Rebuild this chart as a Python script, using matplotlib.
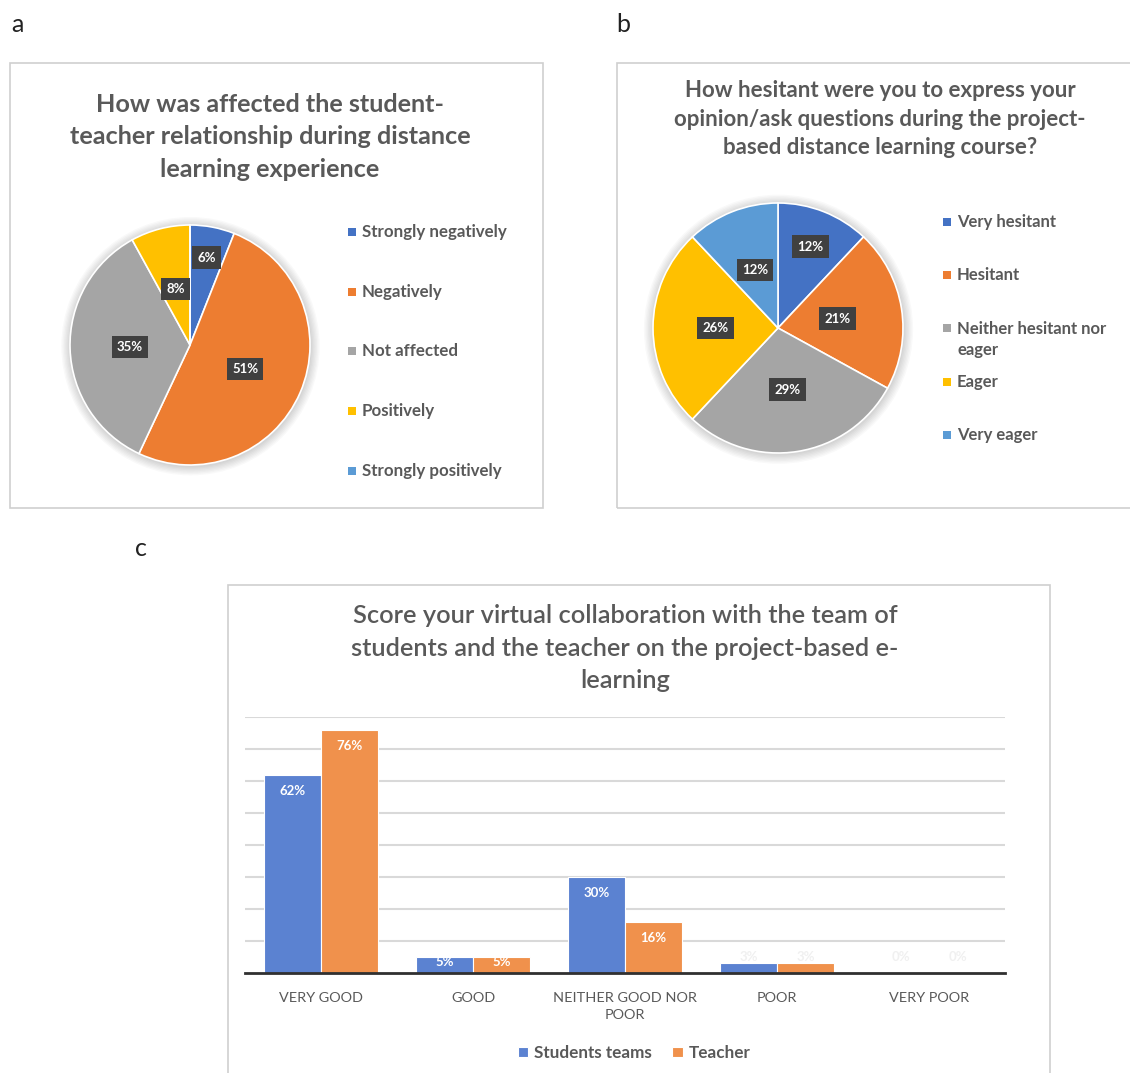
import matplotlib
matplotlib.use("Agg")
import matplotlib.pyplot as plt
from matplotlib.patches import Rectangle, Circle
import numpy as np

# --- data ---
relation_labels = ["Strongly negatively", "Negatively", "Not affected", "Positively", "Strongly positively"]
relation_pct = [6, 51, 35, 8, 0]

hesitant_labels = ["Very hesitant", "Hesitant", "Neither hesitant nor\neager", "Eager", "Very eager"]
hesitant_pct = [12, 21, 29, 26, 12]

score_cats = ["VERY GOOD", "GOOD", "NEITHER GOOD NOR\nPOOR", "POOR", "VERY POOR"]
students_pct = [62, 5, 30, 3, 0]
teacher_pct = [76, 5, 16, 3, 0]

pie_colors = ["#4472C4", "#ED7D31", "#A5A5A5", "#FFC000", "#5B9BD5"]
bar_colors = ["#5B82D1", "#F0914C"]
txt_gray = "#595959"

plt.rcParams["font.family"] = ["Lato", "DejaVu Sans"]

W, H = 1130, 1073
fig = plt.figure(figsize=(W / 100, H / 100), dpi=100)


def fx(x):
    return x / W


def fy(y):
    return 1 - y / H


def box(x0, y0, x1, y1):
    fig.patches.append(Rectangle((fx(x0), fy(y1)), fx(x1 - x0), (y1 - y0) / H,
                                 transform=fig.transFigure, fill=False,
                                 edgecolor="#cfcfcf", linewidth=1.2))


def pie_panel(cx, cy, r, values, colors, label_r):
    pad = 12
    ax = fig.add_axes([fx(cx - r - pad), fy(cy + r + pad), (2 * r + 2 * pad) / W, (2 * r + 2 * pad) / H])
    # soft shadow round the pie
    for k in range(7):
        ax.add_patch(Circle((0.004, -0.01), 1 + 0.011 * (k + 1), color="#000000", alpha=0.022, lw=0))
    wedges, _ = ax.pie(values, colors=colors, startangle=90, counterclock=False,
                       wedgeprops=dict(edgecolor="white", linewidth=1.2))
    for w, v, lr in zip(wedges, values, label_r):
        if v == 0:
            continue
        ang = np.deg2rad((w.theta1 + w.theta2) / 2)
        ax.text(lr * np.cos(ang), lr * np.sin(ang), f"{v}%", ha="center", va="center",
                color="white", fontsize=9.5, fontweight="bold",
                bbox=dict(boxstyle="square,pad=0.4", fc="#404040", ec="none"))
    lim = (r + pad) / r
    ax.set_xlim(-lim, lim)
    ax.set_ylim(-lim, lim)
    ax.set_aspect("auto")
    ax.axis("off")
    return ax


def legend_panel(x, ys, labels, colors, size=12):
    # ys: centre of the first text line of each entry
    for y, lab, c in zip(ys, labels, colors):
        fig.patches.append(Rectangle((fx(x), fy(y + 4)), 8 / W, 8 / H,
                                     transform=fig.transFigure, color=c, lw=0))
        if "\n" in lab:
            fig.text(fx(x + 14), fy(y - 7), lab, ha="left", va="top",
                     fontsize=size, fontweight="bold", color=txt_gray, linespacing=1.42)
        else:
            fig.text(fx(x + 14), fy(y), lab, ha="left", va="center",
                     fontsize=size, fontweight="bold", color=txt_gray)


# panel letters
fig.text(fx(11), fy(25), "a", fontsize=18, va="center", color="#222222")
fig.text(fx(616), fy(25), "b", fontsize=18, va="center", color="#222222")
fig.text(fx(135), fy(548), "c", fontsize=18, va="center", color="#222222")

# ---- a ----
box(10, 63, 543, 508)
fig.text(fx(270), fy(137), "How was affected the student-\nteacher relationship during distance\nlearning experience",
         ha="center", va="center", fontsize=18.2, fontweight="bold", color=txt_gray, linespacing=1.5)
pie_panel(190, 345, 120, relation_pct, pie_colors, [0.74, 0.5, 0.5, 0.48, 0.5])
legend_panel(348, [232 + 59.7 * i for i in range(5)], relation_labels, pie_colors, size=12.2)

# ---- b ----
box(617, 63, 1135, 508)
fig.text(fx(880), fy(119), "How hesitant were you to express your\nopinion/ask questions during the project-\nbased distance learning course?",
         ha="center", va="center", fontsize=16, fontweight="bold", color=txt_gray, linespacing=1.42)
pie_panel(778, 328, 125, hesitant_pct, pie_colors, [0.7, 0.48, 0.5, 0.5, 0.5])
legend_panel(943, [222, 275, 328, 382, 435], hesitant_labels, pie_colors, size=12)

# ---- c ----
box(228, 585, 1050, 1090)
fig.text(fx(625), fy(648), "Score your virtual collaboration with the team of\nstudents and the teacher on the project-based e-\nlearning",
         ha="center", va="center", fontsize=18.3, fontweight="semibold", color=txt_gray, linespacing=1.5)

ax = fig.add_axes([fx(245), fy(973), 760 / W, 256 / H])
x = np.arange(len(score_cats))
bw = 0.375
b1 = ax.bar(x - bw / 2, students_pct, bw, color=bar_colors[0], edgecolor="white", linewidth=0.8, label="Students teams", zorder=3)
b2 = ax.bar(x + bw / 2, teacher_pct, bw, color=bar_colors[1], edgecolor="white", linewidth=0.8, label="Teacher", zorder=3)
for bars, vals in ((b1, students_pct), (b2, teacher_pct)):
    for rect, v in zip(bars, vals):
        xc = rect.get_x() + rect.get_width() / 2
        if v >= 10:
            ax.annotate(f"{v}%", (xc, v), xytext=(0, -16), textcoords="offset pixels",
                        ha="center", va="center", color="white", fontsize=9.5, fontweight="bold", zorder=4)
        else:
            ax.annotate(f"{v}%", (xc, 0), xytext=(0, 11 if v >= 5 else 16), textcoords="offset pixels",
                        ha="center", va="center", color="white" if v >= 5 else "#f0f0f0",
                        fontsize=9.5, fontweight="bold", zorder=4)

ax.set_xlim(-0.5, len(score_cats) - 0.5)
ax.set_ylim(0, 80)
ax.set_yticks(np.arange(10, 81, 10))
ax.set_yticklabels([])
ax.tick_params(axis="y", length=0)
ax.grid(axis="y", color="#d9d9d9", linewidth=1.5, zorder=0)
ax.set_xticks(x)
ax.set_xticklabels(score_cats, fontsize=10.4, color=txt_gray, linespacing=1.5)
ax.tick_params(axis="x", length=0, pad=14)
for s in ("top", "right", "left"):
    ax.spines[s].set_visible(False)
ax.spines["bottom"].set_color("#303030")
ax.spines["bottom"].set_linewidth(2)
ax.spines["bottom"].set_zorder(5)

fig.legend(handles=[b1, b2], loc="center", bbox_to_anchor=(fx(634), fy(1053)), ncol=2,
           frameon=False, handlelength=0.6, handleheight=0.6,
           columnspacing=1.2, handletextpad=0.35, labelcolor=txt_gray,
           prop=dict(weight="bold", size=12.3))

fig.savefig("out.png", dpi=100)
